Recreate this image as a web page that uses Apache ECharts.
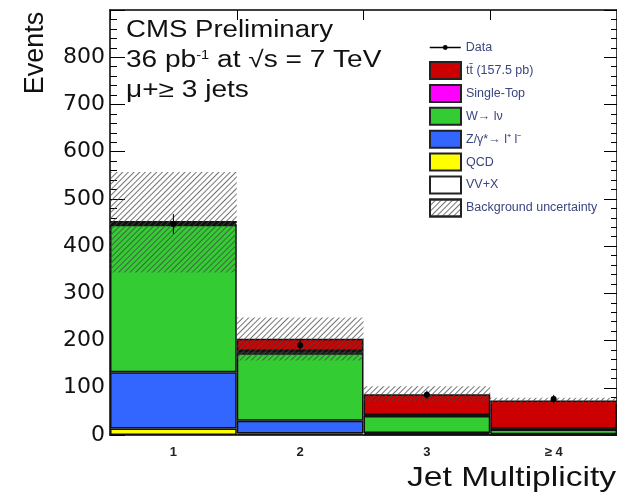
<!DOCTYPE html>
<html>
<head>
<meta charset="utf-8">
<script src="https://cdn.jsdelivr.net/npm/echarts@6/dist/echarts.min.js"></script>
<style>html,body{margin:0;padding:0;background:#fff}#c{width:617px;height:492px}</style>
</head>
<body>
<div id="c"></div>
<script>
var categories = ['1', '2', '3', '\u2265 4'];
var yTicks = [0, 100, 200, 300, 400, 500, 600, 700, 800];
var qcd = [14, 3, 1, 0.5];
var zjets = [119, 27, 3, 1];
var wjets = [312, 143, 36, 10];
var vvx = [1, 1, 0.5, 0.5];
var singleTop = [3, 4, 2, 1];
var ttbar = [4, 26, 44, 60];
var uncLow = [344, 158, 70, 66];
var uncHigh = [557, 249, 103, 79];
var dataVals = [447, 190, 85, 76];
var dataErr = [21, 14, 9, 9];

var names = {
  data: 'Data',
  tt: 'tt\u0304 (157.5 pb)',
  st: 'Single-Top',
  w: 'W\u2192 l\u03bd',
  z: 'Z/\u03b3*\u2192 l\u207a l\u207b',
  qcd: 'QCD',
  vv: 'VV+X',
  unc: 'Background uncertainty'
};

var chart = echarts.init(document.getElementById('c'), null, {renderer: 'canvas'});
var border = {borderColor: '#111', borderWidth: 1.5};
function stackBar(name, vals, color) {
  return {
    name: name, type: 'bar', stack: 'mc', data: vals, barWidth: '100%', barGap: '-100%',
    itemStyle: Object.assign({color: color}, border), z: 2, emphasis: {disabled: true}
  };
}
var hatch = {
  symbol: 'rect', symbolSize: 1, color: 'rgba(70,70,70,0.75)', backgroundColor: 'rgba(0,0,0,0)',
  dashArrayX: [1, 0], dashArrayY: [1, 3], rotation: -Math.PI / 4
};
var legendText = {fontFamily: 'Liberation Sans', fontSize: 12.5, color: '#3a4680'};
var legendIconStyle = {borderColor: '#222', borderWidth: 2};

var option = {
  animation: false,
  backgroundColor: '#fff',
  grid: {left: 110, top: 10, width: 510, bottom: 57, containLabel: false},
  xAxis: [{
    type: 'category', data: categories, position: 'bottom', gridIndex: 0,
    axisLine: {onZero: false, lineStyle: {color: '#000', width: 1.5}},
    axisTick: {show: false},
    axisLabel: {fontFamily: 'Liberation Sans', fontWeight: 'bold', fontSize: 13, color: '#222', margin: 11}
  }, {
    type: 'category', data: categories, position: 'top', gridIndex: 0,
    axisLine: {onZero: false, lineStyle: {color: '#000', width: 1.5}},
    axisTick: {show: true, inside: true, length: 10, lineStyle: {color: '#000'}},
    axisLabel: {show: false}
  }],
  yAxis: [{
    type: 'value', min: 0, max: 900, interval: 100, position: 'left',
    axisLine: {show: true, onZero: false, lineStyle: {color: '#000', width: 1.5}},
    axisTick: {show: true, inside: true, length: 15, lineStyle: {color: '#000'}},
    minorTick: {show: true, splitNumber: 5, length: 7, lineStyle: {color: '#000'}},
    splitLine: {show: false},
    axisLabel: {
      fontFamily: 'DejaVu Sans', fontSize: 22, color: '#111', margin: 5,
      formatter: function (v) { return yTicks.indexOf(v) >= 0 ? String(v) : ''; }
    }
  }, {
    type: 'value', min: 0, max: 900, interval: 100, position: 'right',
    axisLine: {show: true, onZero: false, lineStyle: {color: '#000', width: 1.5}},
    axisTick: {show: true, inside: true, length: 13, lineStyle: {color: '#000'}},
    minorTick: {show: true, splitNumber: 5, length: 6, lineStyle: {color: '#000'}},
    splitLine: {show: false}, axisLabel: {show: false}
  }],
  legend: [{
    orient: 'vertical', left: 424, top: 36, itemWidth: 31, itemHeight: 6,
    selectedMode: false, textStyle: legendText,
    data: [{name: names.data, lineStyle: {width: 1.5, color: '#000', opacity: 1}, itemStyle: {color: '#000'}}]
  }, {
    orient: 'vertical', left: 424, top: 56, itemWidth: 31, itemHeight: 17, itemGap: 3.9,
    selectedMode: false, textStyle: legendText, icon: 'rect',
    itemStyle: legendIconStyle,
    data: [names.tt, names.st, names.w, names.z, names.qcd, names.vv, names.unc]
  }],
  graphic: [
    {type: 'text', x: 126, y: 31, scaleX: 1.2, style: {text: 'CMS Preliminary', fontFamily: 'Liberation Sans', fontSize: 23, fill: '#111', textVerticalAlign: 'middle'}},
    {type: 'text', x: 126, y: 61, scaleX: 1.22, style: {
      text: '36 pb{sup|-1} at \u221as = 7 TeV', fontFamily: 'Liberation Sans', fontSize: 23, fill: '#111', textVerticalAlign: 'middle',
      rich: {sup: {fontSize: 12, verticalAlign: 'top', padding: [0, 0, 10, 0], fontFamily: 'Liberation Sans', fill: '#111'}}
    }},
    {type: 'text', x: 126, y: 91, scaleX: 1.22, style: {text: '\u03bc+\u2265 3 jets', fontFamily: 'Liberation Sans', fontSize: 23, fill: '#111', textVerticalAlign: 'middle'}},
    {type: 'text', x: 36, y: 53, rotation: Math.PI / 2, style: {text: 'Events', fontFamily: 'Liberation Sans', fontSize: 27, fill: '#111', textAlign: 'center', textVerticalAlign: 'middle'}},
    {type: 'text', x: 407, y: 478, scaleX: 1.2, style: {text: 'Jet Multiplicity', fontFamily: 'Liberation Sans', fontSize: 28, fill: '#111', textVerticalAlign: 'middle'}}
  ],
  series: [
    stackBar(names.qcd, qcd, '#ffff00'),
    stackBar(names.z, zjets, '#3366ff'),
    stackBar(names.w, wjets, '#33cc33'),
    stackBar(names.vv, vvx, '#ffffff'),
    stackBar(names.st, singleTop, '#ff00ff'),
    stackBar(names.tt, ttbar, '#cc0000'),
    {
      name: 'uncBase', type: 'bar', stack: 'unc', barWidth: '100%', barGap: '-100%', z: 3,
      data: uncLow, itemStyle: {color: 'rgba(0,0,0,0)'}, silent: true
    },
    {
      name: names.unc, type: 'bar', stack: 'unc', barWidth: '100%', barGap: '-100%', z: 3,
      data: uncHigh.map(function (h, i) { return h - uncLow[i]; }),
      itemStyle: {color: 'rgba(255,255,255,0)', decal: hatch}, silent: true
    },
    {
      name: 'errbars', type: 'custom', z: 5, silent: true,
      data: dataVals.map(function (v, i) { return [i, v - dataErr[i], v + dataErr[i]]; }),
      renderItem: function (params, api) {
        var p1 = api.coord([api.value(0), api.value(1)]);
        var p2 = api.coord([api.value(0), api.value(2)]);
        return {type: 'line', shape: {x1: p1[0], y1: p1[1], x2: p2[0], y2: p2[1]}, style: {stroke: '#000', lineWidth: 1}};
      }
    },
    {
      name: names.data, type: 'line', data: dataVals, z: 6, symbol: 'circle', symbolSize: 6,
      showSymbol: true, itemStyle: {color: '#000'}, lineStyle: {width: 0, opacity: 0}, silent: true
    }
  ]
};
chart.setOption(option);
</script>
</body>
</html>
